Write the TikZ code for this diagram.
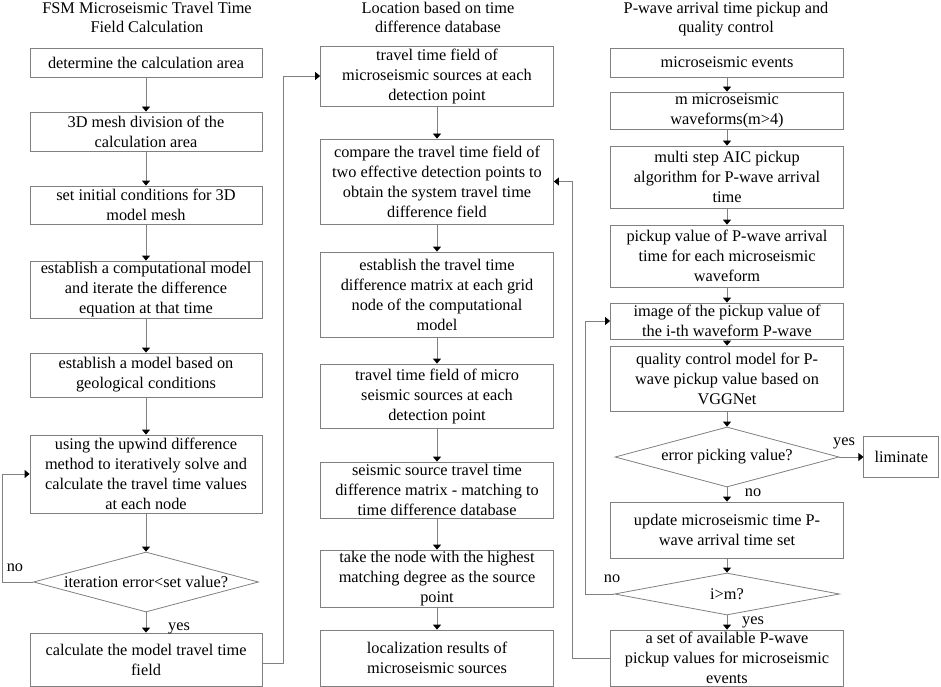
\documentclass[tikz,border=0pt]{standalone}
\usepackage{fontspec}
\setmainfont{Liberation Serif}
\usetikzlibrary{arrows.meta,positioning,shapes.geometric}

\begin{document}
\begin{tikzpicture}[
  x=1pt,y=-1pt,
  font=\fontsize{16.3}{20}\selectfont,
  wire/.style={draw=black!50,line width=0.8pt},
  box/.style={wire,minimum width=232pt,inner sep=0pt,align=center},
  decide/.style={wire,diamond,inner sep=0pt,minimum width=225pt,align=center},
  ttl/.style={align=center,inner sep=0pt,anchor=north,font=\fontsize{16.3}{19}\selectfont},
  lbl/.style={inner sep=0pt},
  >={Triangle[width=8pt,length=5pt,color=black]},
  every edge/.style={wire,->}
]
\useasboundingbox (0,0) rectangle (941,687);
% column titles
\node[ttl] (t1) at (147,2) {FSM Microseismic Travel Time\\Field Calculation};
\node[ttl] (t2) at (438,1.5) {Location based on time\\difference database};
\node[ttl] (t3) at (726,1.5) {P-wave arrival time pickup and\\quality control};

% travel time field
\node[box,minimum height=29pt] (area) at (146,62.5) {determine the calculation area};
\node[box,minimum height=39pt] (mesh) at (146,131.5) {3D mesh division of the\\calculation area};
\node[box,minimum height=38pt] (init) at (146,205) {set initial conditions for 3D\\model mesh};
\node[box,minimum height=57pt] (comp) at (146,289.5) {establish a computational model\\and iterate the difference\\equation at that time};
\node[box,minimum height=44pt] (geo) at (146,375) {establish a model based on\\geological conditions};
\node[box,minimum height=78pt] (upw) at (146,474) {using the upwind difference\\method to iteratively solve and\\calculate the travel time values\\at each node};
\node[decide,minimum height=60pt,aspect=3.75] (err) at (146,582) {iteration error<set value?};
\node[box,minimum height=53pt] (ttf) at (146,659.5) {calculate the model travel time\\field};

% location
\node[box,minimum height=60pt,minimum width=233pt] (src) at (437,76) {travel time field of\\microseismic sources at each\\detection point};
\node[box,minimum height=85pt,minimum width=233pt] (cmp) at (437,181.5) {compare the travel time field of\\two effective detection points to\\obtain the system travel time\\difference field};
\node[box,minimum height=85pt,minimum width=233pt] (mat) at (437,294.5) {establish the travel time\\difference matrix at each grid\\node of the computational\\model};
\node[box,minimum height=64pt,minimum width=233pt] (msrc) at (437,396) {travel time field of micro\\seismic sources at each\\detection point};
\node[box,minimum height=56pt,minimum width=233pt] (match) at (437,490) {seismic source travel time\\difference matrix - matching to\\time difference database};
\node[box,minimum height=57pt,minimum width=233pt] (best) at (437,578.5) {take the node with the highest\\matching degree as the source\\point};
\node[box,minimum height=56pt,minimum width=233pt] (loc) at (437,658) {localization results of\\microseismic sources};

% pickup and quality control
\node[box,minimum height=29pt,minimum width=233pt] (ev) at (727,62.5) {microseismic events};
\node[box,minimum height=37pt,minimum width=233pt] (wav) at (727,110.5) {m microseismic\\waveforms(m>4)};
\node[box,minimum height=62pt,minimum width=233pt] (aic) at (727,177) {multi step AIC pickup\\algorithm for P-wave arrival\\time};
\node[box,minimum height=62pt,minimum width=233pt] (pick) at (727,256) {pickup value of P-wave arrival\\time for each microseismic\\waveform};
\node[box,minimum height=36pt,minimum width=233pt] (img) at (727,321) {image of the pickup value of\\the i-th waveform P-wave};
\node[box,minimum height=65pt,minimum width=233pt] (vgg) at (727,378.5) {quality control model for P-\\wave pickup value based on\\VGGNet};
\node[decide,minimum height=60pt,minimum width=224pt,aspect=3.73] (bad) at (727,457) {error picking value?};
\node[box,minimum height=41pt,minimum width=75pt,right=24pt of bad] (elim) {liminate};
\node[box,minimum height=56pt,minimum width=233pt] (upd) at (727,530) {update microseismic time P-\\wave arrival time set};
\node[decide,minimum height=42pt,aspect=5.36] (last) at (727,594) {i>m?};
\node[box,minimum height=56pt,minimum width=233pt] (set) at (727,658) {a set of available P-wave\\pickup values for microseismic\\events};

% branch labels
\node[lbl] (no1) at (15,568) {no};
\node[lbl] (yes1) at (179,628) {yes};
\node[lbl] (yes2) at (844,443) {yes};
\node[lbl] (no2) at (753,493) {no};
\node[lbl] (no3) at (612,579) {no};
\node[lbl] (yes3) at (753,622) {yes};

\draw (area) edge (mesh);
\draw (mesh) edge (init);
\draw (init) edge (comp);
\draw (comp) edge (geo);
\draw (geo) edge (upw);
\draw (upw) edge (err);
\draw (err) edge (ttf);
\draw[wire,->] (err.west) -- ++(-31,0) |- (upw.west);
\draw[wire,->] ([yshift=-3.5pt]ttf.east) -- ++(21,0) |- (src.west);

\draw (src) edge (cmp);
\draw (cmp) edge (mat);
\draw (mat) edge (msrc);
\draw (msrc) edge (match);
\draw (match) edge (best);
\draw (best) edge (loc);

\draw (ev) edge (wav);
\draw (wav) edge (aic);
\draw (aic) edge (pick);
\draw (pick) edge (img);
\draw (img) edge (vgg);
\draw (vgg) edge (bad);
\draw (bad) edge (elim);
\draw (bad) edge (upd);
\draw (upd) edge (last);
\draw (last) edge (set);
\draw[wire,->] (last.west) -- ++(-29,0) |- (img.west);
\draw[wire,->] (set.west) -- ++(-38,0) |- (cmp.east);
\end{tikzpicture}
\end{document}
